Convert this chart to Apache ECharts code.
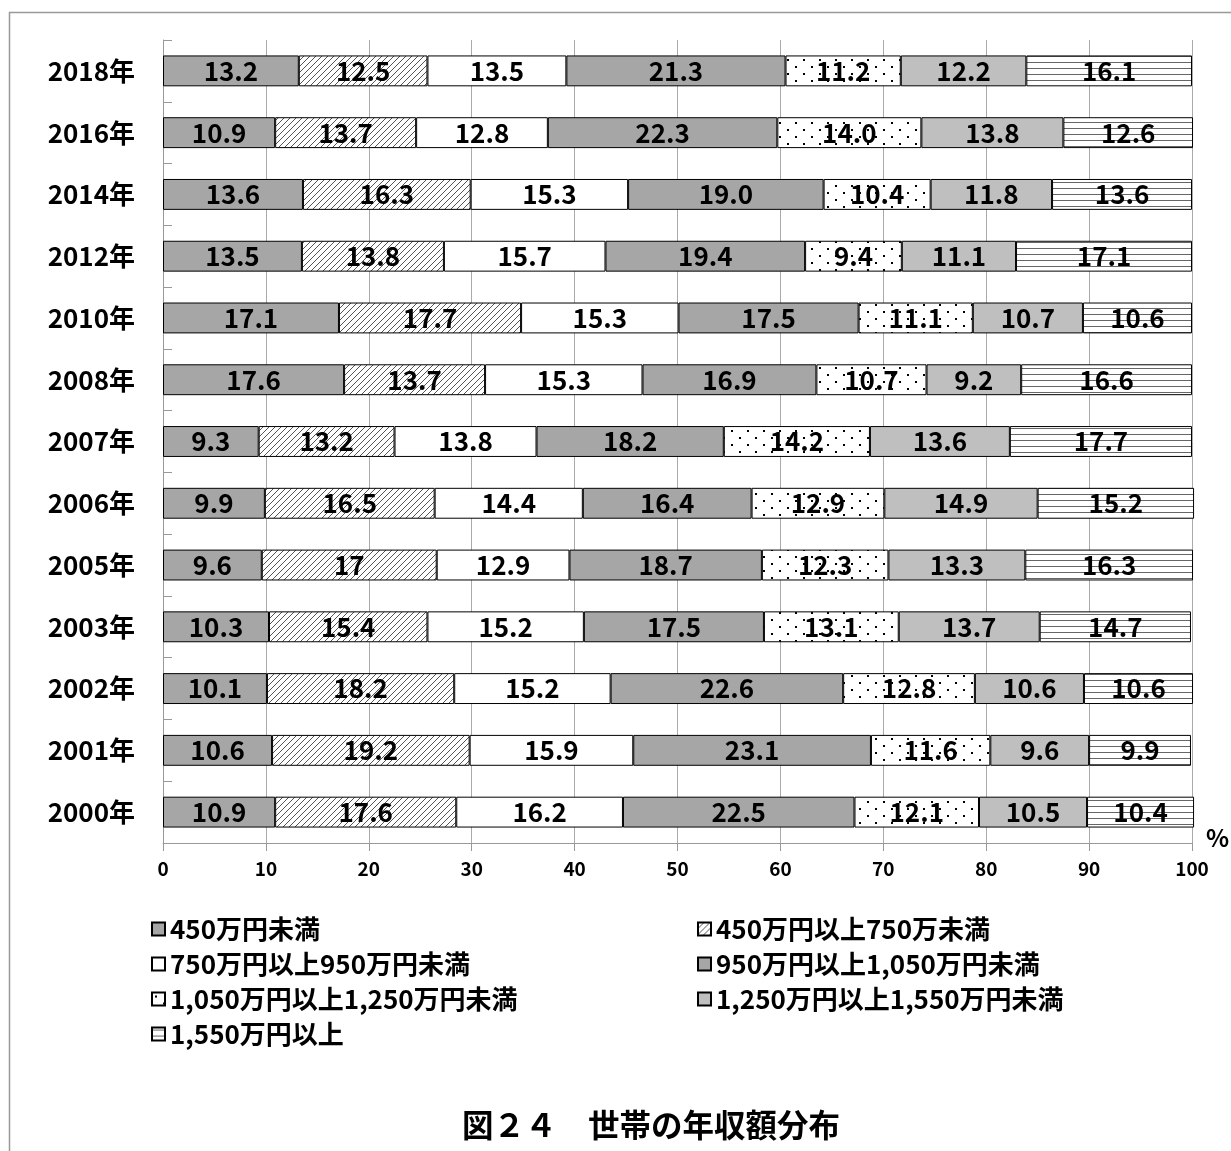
<!DOCTYPE html>
<html><head><meta charset="utf-8">
<script src="https://cdn.jsdelivr.net/npm/echarts@6/dist/echarts.min.js"></script>
<style>html,body{margin:0;padding:0;background:#fff}#c{width:1231px;height:1151px}</style>
</head><body><div id="c"></div>
<script>
const years = ['2018年','2016年','2014年','2012年','2010年','2008年','2007年','2006年','2005年','2003年','2002年','2001年','2000年'];
const seriesNames = ['450万円未満','450万円以上750万未満','750万円以上950万円未満','950万円以上1,050万円未満','1,050万円以上1,250万円未満','1,250万円以上1,550万円未満','1,550万円以上'];
const xTicks = ['0','10','20','30','40','50','60','70','80','90','100'];
const under450   = ['13.2','10.9','13.6','13.5','17.1','17.6','9.3','9.9','9.6','10.3','10.1','10.6','10.9'];
const r450_750   = ['12.5','13.7','16.3','13.8','17.7','13.7','13.2','16.5','17','15.4','18.2','19.2','17.6'];
const r750_950   = ['13.5','12.8','15.3','15.7','15.3','15.3','13.8','14.4','12.9','15.2','15.2','15.9','16.2'];
const r950_1050  = ['21.3','22.3','19.0','19.4','17.5','16.9','18.2','16.4','18.7','17.5','22.6','23.1','22.5'];
const r1050_1250 = ['11.2','14.0','10.4','9.4','11.1','10.7','14.2','12.9','12.3','13.1','12.8','11.6','12.1'];
const r1250_1550 = ['12.2','13.8','11.8','11.1','10.7','9.2','13.6','14.9','13.3','13.7','10.6','9.6','10.5'];
const over1550   = ['16.1','12.6','13.6','17.1','10.6','16.6','17.7','15.2','16.3','14.7','10.6','9.9','10.4'];
const allSeries = [under450, r450_750, r750_950, r950_1050, r1050_1250, r1250_1550, over1550];

function mk(w,h,draw){const c=document.createElement('canvas');c.width=w;c.height=h;const g=c.getContext('2d');g.fillStyle='#fff';g.fillRect(0,0,w,h);draw(g);return c;}
const hatch = mk(6,6,g=>{g.strokeStyle='#555';g.lineWidth=1;g.beginPath();g.moveTo(0,6);g.lineTo(6,0);g.moveTo(-1,1);g.lineTo(1,-1);g.moveTo(5,7);g.lineTo(7,5);g.stroke();});
const dots = mk(16,14,g=>{g.fillStyle='#000';g.fillRect(3,3,2,2);g.fillRect(11,10,2,2);});
const hlines = mk(4,6,g=>{g.fillStyle='#666';g.fillRect(0,2,4,1);});

const fills = ['#a6a6a6',{image:hatch,repeat:'repeat'},'#ffffff','#a6a6a6',{image:dots,repeat:'repeat'},'#bfbfbf',{image:hlines,repeat:'repeat'}];
const FONT = '"Noto Sans CJK JP","Noto Sans",sans-serif';

const series = allSeries.map((arr,i)=>({
  name: seriesNames[i], type:'bar', stack:'total', barWidth:'50%', clip:false,
  itemStyle:{color:fills[i], borderColor:'#000', borderWidth:1},
  label:{show:true, position:'inside', color:'#000', fontFamily:FONT, fontSize:26, fontWeight:'bold',
    formatter:p=>arr[p.dataIndex]},
  emphasis:{disabled:true},
  data: arr.map(s=>Number(s))
}));

const legendText = {color:'#000', fontFamily:FONT, fontSize:26, fontWeight:'bold', lineHeight:26};
const chart = echarts.init(document.getElementById('c'));
chart.setOption({
  animation:false,
  backgroundColor:'#fff',
  grid:{left:163, right:39, top:40, bottom:308},
  xAxis:{type:'value', min:0, max:100, interval:10,
    axisLine:{show:true, lineStyle:{color:'#999'}},
    axisTick:{show:true, length:8, lineStyle:{color:'#999'}},
    splitLine:{show:true, lineStyle:{color:'#aaa'}},
    axisLabel:{color:'#000', fontFamily:FONT, fontSize:19, fontWeight:'bold', margin:16,
      formatter:(v)=>xTicks[Math.round(v/10)]}},
  yAxis:{type:'category', inverse:true, data:years,
    axisLine:{show:true, lineStyle:{color:'#999'}},
    axisTick:{show:true, inside:true, length:9, lineStyle:{color:'#999'}},
    axisLabel:{color:'#000', fontFamily:FONT, fontSize:26, fontWeight:'bold', margin:28}},
  legend:[
    {data:[seriesNames[0],seriesNames[2],seriesNames[4],seriesNames[6]], orient:'vertical', left:146, top:911,
     itemWidth:13, itemHeight:13, itemGap:9, icon:'rect', selectedMode:false, textStyle:legendText},
    {data:[seriesNames[1],seriesNames[3],seriesNames[5]], orient:'vertical', left:692, top:911,
     itemWidth:13, itemHeight:13, itemGap:9, icon:'rect', selectedMode:false, textStyle:legendText}
  ],
  title:{text:'図２４　世帯の年収額分布', left:457, top:1104,
    textStyle:{color:'#000', fontFamily:FONT, fontSize:31.5, fontWeight:'bold'}},
  graphic:[
    {type:'rect', silent:true, shape:{x:9.5, y:12.5, width:1400, height:1400}, style:{fill:null, stroke:'#999', lineWidth:1.5}},
    {type:'text', left:1206, top:826, style:{text:'%', fill:'#000', font:'bold 24px "Noto Sans CJK JP", sans-serif'}}
  ],
  series
});
</script></body></html>
